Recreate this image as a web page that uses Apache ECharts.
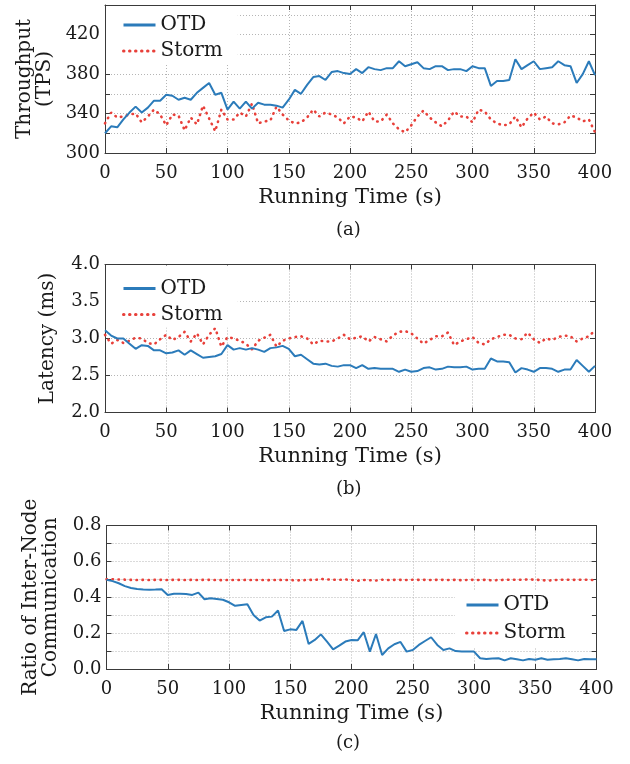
<!DOCTYPE html>
<html>
<head>
<meta charset="utf-8">
<script src="https://cdn.jsdelivr.net/npm/echarts@6/dist/echarts.min.js"></script>
<style>
  html, body { margin: 0; padding: 0; background: #fff; }
  #chart { width: 630px; height: 764px; }
</style>
</head>
<body>
<div id="chart"></div>
<script>
// running time (s), shared by all three panels
var times = [0,5,10,15,20,25,30,35,40,45,50,55,60,65,70,75,80,85,90,95,
  100,105,110,115,120,125,130,135,140,145,150,155,160,165,170,175,180,185,190,195,
  200,205,210,215,220,225,230,235,240,245,250,255,260,265,270,275,280,285,290,295,
  300,305,310,315,320,325,330,335,340,345,350,355,360,365,370,375,380,385,390,395,400];

// (a) throughput (TPS)
var throughputOTD = [320,327,326,334,341,347,341,346,353,353,
  359,358,354,356,354,361,366,371,359,361,
  344,352,345,352,345,351,349,349,348,346,
  354,364,360,369,377,378,374,382,383,381,
  380,385,381,387,385,384,386,386,393,388,
  390,392,386,385,388,388,384,385,385,383,
  388,386,386,368,373,373,374,395,385,389,
  393,385,386,387,393,389,388,371,380,393,379];
var throughputStorm = [330,341,336,337,339,340,331,337,344,339,
  328,339,338,323,336,329,348,335,322,344,
  334,334,341,337,350,330,332,333,347,339,
  333,330,331,336,344,337,341,339,336,330,
  337,336,332,342,332,332,339,330,324,321,
  328,337,343,336,331,327,333,342,337,337,
  331,344,342,334,330,328,329,337,326,335,
  341,334,337,330,329,331,338,336,332,334,321];

// (b) latency (ms)
var latencyOTD = [3.11,3.04,3.00,3.00,2.93,2.86,2.91,2.90,2.84,2.84,
  2.80,2.81,2.84,2.78,2.84,2.79,2.74,2.75,2.76,2.79,
  2.91,2.85,2.87,2.85,2.87,2.85,2.82,2.87,2.88,2.90,
  2.86,2.76,2.78,2.72,2.66,2.65,2.66,2.63,2.62,2.64,
  2.64,2.60,2.64,2.59,2.60,2.59,2.59,2.59,2.55,2.58,
  2.55,2.56,2.60,2.61,2.58,2.59,2.62,2.61,2.61,2.62,
  2.58,2.59,2.59,2.73,2.69,2.69,2.68,2.54,2.60,2.58,
  2.55,2.60,2.60,2.59,2.55,2.58,2.58,2.71,2.63,2.55,2.63];
var latencyStorm = [3.05,2.93,2.98,2.94,2.97,3.01,3.00,2.94,2.92,2.99,
  3.05,2.98,3.02,3.09,2.96,3.07,2.92,3.05,3.14,2.89,
  3.02,3.00,2.97,2.93,2.85,2.97,3.01,3.05,2.89,2.97,
  3.00,3.02,3.03,3.00,2.92,2.97,2.96,2.96,3.00,3.05,
  2.99,3.01,3.03,2.96,3.02,2.99,2.96,3.04,3.09,3.10,
  3.07,3.00,2.93,2.98,3.03,3.03,3.08,2.91,2.96,2.99,
  3.02,2.94,2.92,2.99,3.02,3.05,3.05,3.00,2.99,3.08,
  2.99,2.94,3.00,2.98,3.02,3.04,3.03,2.96,3.00,3.03,3.11];

// (c) ratio of inter-node communication
var ratioOTD = [0.497,0.490,0.478,0.462,0.452,0.446,0.443,0.442,0.443,0.445,
  0.413,0.419,0.419,0.418,0.413,0.426,0.389,0.394,0.390,0.386,
  0.372,0.352,0.357,0.361,0.301,0.270,0.288,0.292,0.326,0.212,
  0.221,0.218,0.268,0.140,0.162,0.193,0.153,0.110,0.130,0.153,
  0.162,0.160,0.205,0.097,0.195,0.078,0.115,0.138,0.151,0.097,
  0.106,0.134,0.156,0.177,0.134,0.106,0.115,0.100,0.097,0.097,
  0.097,0.060,0.056,0.058,0.060,0.048,0.060,0.054,0.048,0.056,
  0.052,0.060,0.052,0.054,0.056,0.060,0.054,0.048,0.056,0.054,0.054];
var ratioStorm = [0.500,0.500,0.499,0.498,0.497,0.496,0.497,0.496,0.497,0.497,
  0.496,0.497,0.497,0.496,0.497,0.496,0.497,0.497,0.496,0.495,
  0.497,0.496,0.496,0.497,0.496,0.497,0.495,0.496,0.497,0.496,
  0.496,0.494,0.495,0.497,0.496,0.502,0.499,0.498,0.497,0.499,
  0.497,0.492,0.496,0.495,0.493,0.498,0.496,0.497,0.497,0.496,
  0.498,0.497,0.497,0.496,0.497,0.497,0.496,0.497,0.495,0.497,
  0.497,0.496,0.497,0.494,0.496,0.497,0.498,0.497,0.498,0.499,
  0.498,0.496,0.492,0.496,0.497,0.498,0.497,0.497,0.498,0.497,0.495];

var FONT = 'DejaVu Serif';
var INK = '#1a1a1a';
var FRAME = '#3a3a3a';
var BLUE = '#2b7bba';
var RED = '#e8403a';

function pairs(ys) {
  return times.map(function (t, i) { return [t, ys[i]]; });
}

var grids = [
  { left: 105, top: 5, width: 490, height: 148 },
  { left: 105, top: 264.5, width: 490, height: 148 },
  { left: 106.5, top: 525.5, width: 490, height: 143.5 }
];

var xAxes = [], yAxes = [];
var yCfg = [
  { min: 300, max: 450, interval: 20, name: 'Throughput\n(TPS)', gap: 44,
    fmt: function (v) { return (v - 300) % 40 === 0 && v < 450 ? String(v) : ''; } },
  { min: 2, max: 4, interval: 0.5, name: 'Latency (ms)', gap: 47,
    fmt: function (v) { return v.toFixed(1); } },
  { min: 0, max: 0.8, interval: 0.1, name: 'Ratio of Inter-Node\nCommunication', gap: 46,
    fmt: function (v) { return Math.round(v * 10) % 2 === 0 ? v.toFixed(1) : ''; } }
];

grids.forEach(function (g, i) {
  var c = yCfg[i];
  xAxes.push({
    gridIndex: i, type: 'value', min: 0, max: 400, interval: 50, position: 'bottom',
    axisLine: { show: true, onZero: false, lineStyle: { color: FRAME, width: 1 } },
    axisTick: { inside: true, length: 5, lineStyle: { color: FRAME } },
    axisLabel: { color: INK, fontSize: 18, fontFamily: FONT, margin: 11 },
    splitLine: { show: true, lineStyle: { color: '#b5b5b5', type: [1, 2], width: 1 } },
    name: 'Running Time (s)', nameLocation: 'middle', nameGap: 34,
    nameTextStyle: { color: INK, fontSize: 21, fontFamily: FONT }
  });
  xAxes.push({
    gridIndex: i, type: 'value', min: 0, max: 400, interval: 50, position: 'top',
    axisLine: { show: true, onZero: false, lineStyle: { color: FRAME, width: 1 } },
    axisTick: { inside: true, length: 5, lineStyle: { color: FRAME } },
    axisLabel: { show: false }, splitLine: { show: false }
  });
  yAxes.push({
    gridIndex: i, type: 'value', min: c.min, max: c.max, interval: c.interval, position: 'left',
    axisLine: { show: true, onZero: false, lineStyle: { color: FRAME, width: 1 } },
    axisTick: { inside: true, length: 5, lineStyle: { color: FRAME } },
    axisLabel: { color: INK, fontSize: 18, fontFamily: FONT, margin: 5, formatter: c.fmt },
    splitLine: { show: true, lineStyle: { color: '#b5b5b5', type: [1, 2], width: 1 } },
    name: c.name, nameLocation: 'middle', nameGap: c.gap, nameRotate: 90,
    nameTextStyle: { color: INK, fontSize: 20, fontFamily: FONT, lineHeight: 20 }
  });
  yAxes.push({
    gridIndex: i, type: 'value', min: c.min, max: c.max, interval: c.interval, position: 'right',
    axisLine: { show: true, onZero: false, lineStyle: { color: FRAME, width: 1 } },
    axisTick: { inside: true, length: 5, lineStyle: { color: FRAME } },
    axisLabel: { show: false }, splitLine: { show: false }
  });
});

var panels = [
  [throughputOTD, throughputStorm],
  [latencyOTD, latencyStorm],
  [ratioOTD, ratioStorm]
];
var series = [];
panels.forEach(function (p, i) {
  series.push({
    name: 'OTD', type: 'line', xAxisIndex: 2 * i, yAxisIndex: 2 * i,
    data: pairs(p[0]), symbol: 'none', showSymbol: false, z: 3,
    lineStyle: { color: BLUE, width: 2 }, itemStyle: { color: BLUE }
  });
  series.push({
    name: 'Storm', type: 'line', xAxisIndex: 2 * i, yAxisIndex: 2 * i,
    data: pairs(p[1]), symbol: 'none', showSymbol: false, z: 2,
    lineStyle: { color: RED, width: 2.6, type: [0.5, 5.5], cap: 'round' },
    itemStyle: { color: RED }
  });
});

function legendAt(left, top, gap, pad) {
  return {
    orient: 'vertical', left: left, top: top, itemWidth: 32, itemHeight: 14,
    itemGap: gap, padding: pad, backgroundColor: '#fff', borderWidth: 0,
    selectedMode: false,
    itemStyle: { opacity: 0 },
    lineStyle: { width: 3 },
    data: ['OTD', 'Storm'],
    textStyle: { color: INK, fontSize: 20, fontFamily: FONT }
  };
}

var captions = ['(a)', '(b)', '(c)'];
var captionY = [232, 491, 745];

var chart = echarts.init(document.getElementById('chart'), null, { renderer: 'canvas' });
chart.setOption({
  animation: false,
  backgroundColor: '#fff',
  grid: grids,
  xAxis: xAxes,
  yAxis: yAxes,
  legend: [
    legendAt(106, 6, 6, [9, 15, 3, 16]),
    legendAt(106, 265.5, 6, [13, 15, 3, 16]),
    legendAt(455, 591, 8, [4, 26, 5, 10])
  ],
  series: series,
  graphic: captions.map(function (t, i) {
    return {
      type: 'text', left: 350 - 14, top: captionY[i] - 11,
      style: { text: t, fill: INK, font: '18px "DejaVu Serif"' }
    };
  })
});
</script>
</body>
</html>
